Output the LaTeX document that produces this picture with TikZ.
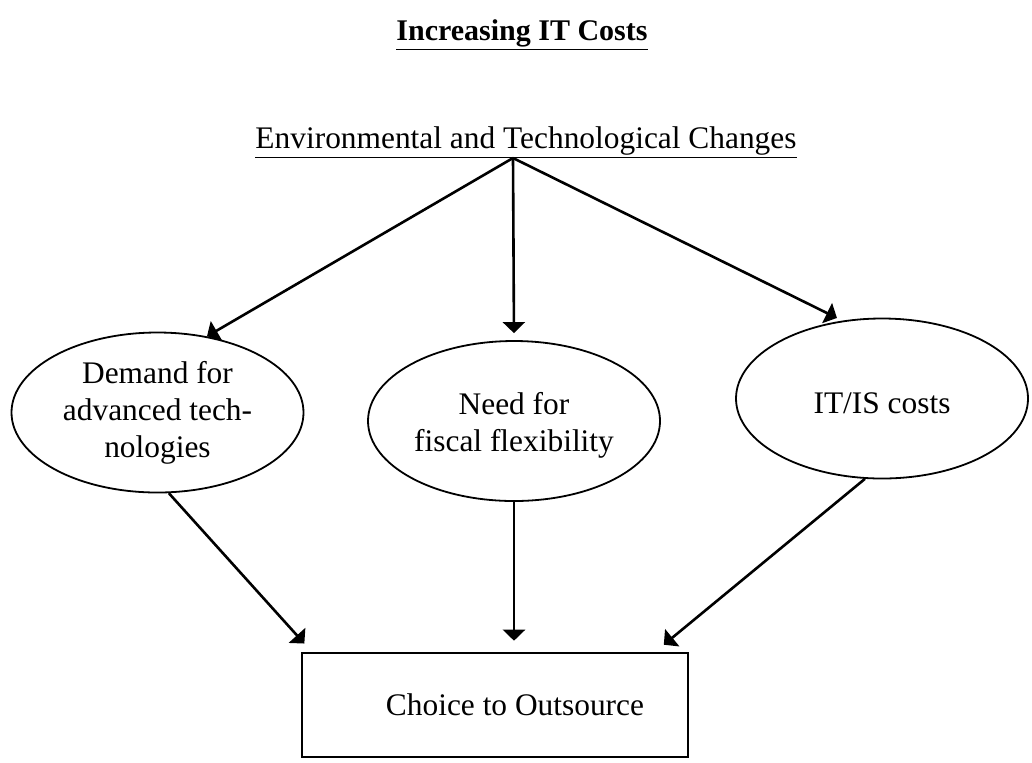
\documentclass[tikz,border=0pt]{standalone}
\usepackage{fontspec}
\setmainfont{Liberation Serif}
\usetikzlibrary{arrows.meta,shapes.geometric}
\def\EllW{146pt}
\def\EllH{80pt}
\def\Gap{5.5pt}
\def\BodySize{\fontsize{15.7}{18.5}\selectfont}
\tikzset{
  bubble/.style={ellipse, draw, line width=0.9pt, minimum width=\EllW, minimum height=\EllH,
    inner sep=0pt, align=center, font=\BodySize},
  flow/.style={-{Triangle[length=5.5pt,width=11pt]}, line width=1.3pt},
}
\begin{document}
\begin{tikzpicture}[x=0.5pt,y=-0.5pt]
\useasboundingbox (0,0) rectangle (1032,762);

\node[anchor=base, font=\fontsize{15}{18}\selectfont\bfseries] (title) at (522,40) {\underline{Increasing IT Costs}};
\node[anchor=base, font=\BodySize] (env) at (526,148) {\underline{Environmental and Technological Changes}};
\coordinate (apex) at (513,158);

\node[bubble] (demand) at (157.5,412.5) {Demand for\\advanced tech-\\nologies};
\node[bubble, text height=34pt] (need) at (514,421) {Need for\\fiscal flexibility};
\node[bubble, text height=15.5pt] (cost) at (882,398.5) {IT/IS costs};

\node[draw, line width=1.3pt, minimum width=193pt, minimum height=52pt, inner sep=0pt, font=\BodySize]
  (choice) at (495,705) {\hspace*{20pt}Choice to Outsource};

\draw[flow] (apex) -- (demand.57);
\draw[flow, shorten >=3.5pt] (apex) -- (need.north);
\draw[flow, shorten >=3pt] (apex) -- (cost.117);

\draw[flow, shorten >=\Gap] (demand.-82) -- ([xshift=5.5pt]choice.north west);
\draw[flow, shorten >=\Gap] (need.south) -- (need.south |- choice.north);
\draw[flow, shorten >=\Gap] (cost.-102) -- ([xshift=-17pt]choice.north east);
\end{tikzpicture}
\end{document}
